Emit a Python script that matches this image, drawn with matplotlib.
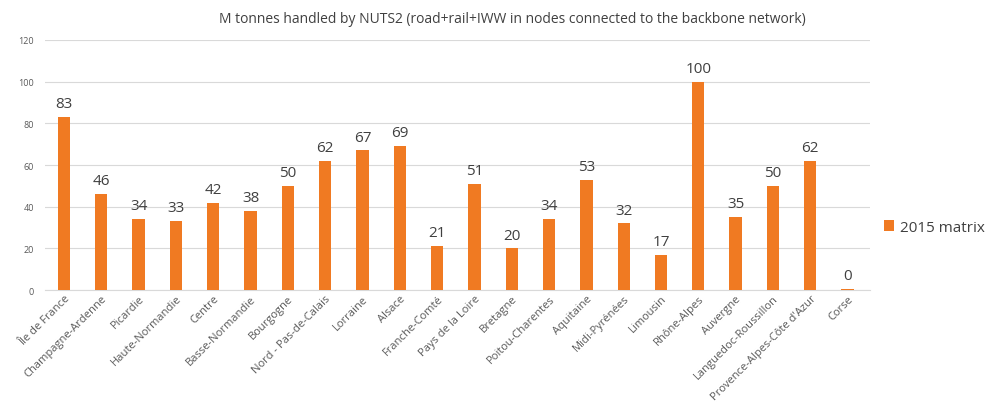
import matplotlib.pyplot as plt
import numpy as np

plt.rcParams['font.family'] = ['Open Sans', 'DejaVu Sans']

regions = ["Île de France", "Champagne-Ardenne", "Picardie", "Haute-Normandie", "Centre",
           "Basse-Normandie", "Bourgogne", "Nord - Pas-de-Calais", "Lorraine", "Alsace",
           "Franche-Comté", "Pays de la Loire", "Bretagne", "Poitou-Charentes", "Aquitaine",
           "Midi-Pyrénées", "Limousin", "Rhône-Alpes", "Auvergne", "Languedoc-Roussillon",
           "Provence-Alpes-Côte d'Azur", "Corse"]
tonnes = [83, 46, 34, 33, 42, 38, 50, 62, 67, 69, 21, 51, 20, 34, 53, 32, 17, 100, 35, 50, 62, 0.4]
labels = ["83", "46", "34", "33", "42", "38", "50", "62", "67", "69", "21", "51", "20", "34",
          "53", "32", "17", "100", "35", "50", "62", "0"]

orange = "#f07a22"
grey = "#595959"

fig = plt.figure(figsize=(10.08, 4.14), dpi=100)
ax = fig.add_axes([0.045, 0.297, 0.818, 0.604])

x = np.arange(len(regions))
bars = ax.bar(x, tonnes, width=0.33, color=orange, label="2015 matrix", zorder=3)

for xi, lab, v in zip(x, labels, tonnes):
    ax.text(xi, v + 2.8, lab, ha="center", va="bottom", fontsize=11, color="#404040")

ax.set_ylim(0, 120)
ax.set_xlim(-0.5, 21.6)
ax.set_yticks(range(0, 121, 20))
ax.tick_params(axis="y", length=0, labelsize=6.5, labelcolor=grey, pad=8)
ax.tick_params(axis="x", length=0, labelsize=8, labelcolor=grey, pad=2)
ax.set_xticks(x)
ax.set_xticklabels(regions, rotation=45, ha="right", rotation_mode="anchor")
ax.grid(axis="y", color="#d9d9d9", linewidth=0.8, zorder=0)
for s in ["top", "right", "left"]:
    ax.spines[s].set_visible(False)
ax.spines["bottom"].set_color("#d9d9d9")

fig.suptitle("M tonnes handled by NUTS2 (road+rail+IWW in nodes connected to the backbone network)",
             x=0.508, y=0.97, fontsize=10, color="#404040")

ax.legend(loc="center left", bbox_to_anchor=(1.0, 0.25), frameon=False, fontsize=11,
          handlelength=0.7, handleheight=0.7, handletextpad=0.4, labelcolor="#404040")

fig.savefig("out.png", dpi=100)
